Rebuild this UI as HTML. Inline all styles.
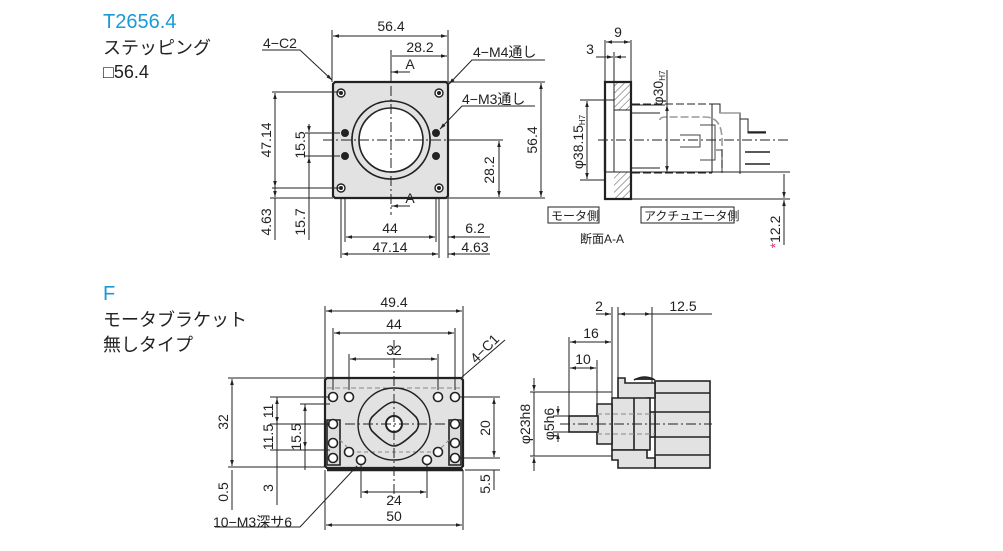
<!DOCTYPE html>
<html><head><meta charset="utf-8"><style>
html,body{margin:0;padding:0;background:#fff;}
svg{display:block;}
text{font-family:"Liberation Sans","Noto Sans CJK JP",sans-serif;fill:#222;}
.t{font-size:14px;}
.b{fill:#1a9ad6;font-size:20px;}
.h{font-size:18px;}
</style></head><body>
<svg width="1003" height="551" viewBox="0 0 1003 551" xmlns="http://www.w3.org/2000/svg">
<defs>
<marker id="a" viewBox="0 0 10 10" refX="10" refY="5" markerWidth="8" markerHeight="6" orient="auto-start-reverse"><path d="M0,2 L10,5 L0,8 z" fill="#222"/></marker>
<pattern id="hatch" width="5" height="5" patternUnits="userSpaceOnUse" patternTransform="rotate(45)"><rect width="5" height="5" fill="#fff"/><line x1="0" y1="0" x2="0" y2="5" stroke="#555" stroke-width="1"/></pattern>
</defs>
<g stroke="#222" fill="none" stroke-width="1">
<!-- titles -->
</g>
<text x="103" y="28" class="b">T2656.4</text>
<text x="103" y="54" class="h">ステッピング</text>
<text x="103" y="78" class="h">□56.4</text>
<text x="103" y="300" class="b">F</text>
<text x="103" y="326" class="h">モータブラケット</text>
<text x="103" y="351" class="h">無しタイプ</text>

<!-- ===== Top plate front ===== -->
<g stroke="#222" stroke-width="1" fill="none">
<path d="M335,82 H446 L448,84 V196 L446,198 H335 L333,196 V84 Z" fill="#e2e2e2" stroke-width="2.2"/>
<circle cx="391" cy="140" r="39" fill="#fff" stroke-width="1.6"/>
<circle cx="391" cy="140" r="39" fill="#e2e2e2" stroke-width="1.6"/>
<circle cx="391" cy="140" r="32" fill="#fff" stroke-width="1.6"/>
<g fill="#fff" stroke-width="1.4">
<circle cx="341" cy="93" r="4"/><circle cx="439" cy="93" r="4"/>
<circle cx="341" cy="188" r="4"/><circle cx="439" cy="188" r="4"/>
</g>
<g fill="#222"><circle cx="341" cy="93" r="1.5"/><circle cx="439" cy="93" r="1.5"/><circle cx="341" cy="188" r="1.5"/><circle cx="439" cy="188" r="1.5"/>
<circle cx="345" cy="133" r="3.5"/><circle cx="436" cy="133" r="3.5"/><circle cx="345" cy="156" r="3.5"/><circle cx="436" cy="156" r="3.5"/></g>
<path d="M391,50 V215" stroke-dasharray="10,3,2,3"/>
<path d="M323,140 H503" stroke-dasharray="10,3,2,3"/>
<!-- ext lines -->
<path d="M332,30 V82 M448,30 V82 M391,56 V82"/>
<path d="M272,92 H340 M272,188 H340 M305,133 H340 M305,156 H340 M270,198 H333 M300,198 H333"/>
<path d="M448,82 H545 M448,198 H545 M448,140 H503"/>
<path d="M345,198 V242 M341,198 V258 M436,198 V242 M439,198 V258 M448,198 V258"/>
<!-- dims -->
<path d="M333,36 H447" marker-start="url(#a)" marker-end="url(#a)"/>
<path d="M392,56 H447" marker-end="url(#a)"/>
<path d="M391,72 H410 M391,206 H410" />
<path d="M402,72 H392" marker-end="url(#a)"/><path d="M402,206 H392" marker-end="url(#a)"/>
<path d="M275,93 V187" marker-start="url(#a)" marker-end="url(#a)"/>
<path d="M275,198 V240"/><path d="M275,185 V197" marker-end="url(#a)"/>
<path d="M309,124 V132" marker-end="url(#a)"/><path d="M309,165 V157" marker-end="url(#a)"/><path d="M309,133 V240 M309,156 V160"/>
<path d="M499,141 V197" marker-start="url(#a)" marker-end="url(#a)"/>
<path d="M541,83 V197" marker-start="url(#a)" marker-end="url(#a)"/>
<path d="M346,237 H435" marker-start="url(#a)" marker-end="url(#a)"/>
<path d="M342,254 H438" marker-start="url(#a)" marker-end="url(#a)"/>
<path d="M448,237 H490"/><path d="M462,237 H449" marker-end="url(#a)"/><path d="M425,237 H435" marker-end="url(#a)"/>
<path d="M448,254 H490"/><path d="M462,254 H449" marker-end="url(#a)"/>
<!-- leaders -->
<path d="M262,50 H300 L332,80" marker-end="url(#a)"/>
<path d="M545,60 H472 L449,84" marker-end="url(#a)"/>
<path d="M535,106 H462 L440,129" marker-end="url(#a)"/>
</g>
<text x="391" y="31" class="t" text-anchor="middle">56.4</text>
<text x="420" y="52" class="t" text-anchor="middle">28.2</text>
<text x="410" y="69" class="t" text-anchor="middle">A</text>
<text x="410" y="203" class="t" text-anchor="middle">A</text>
<text x="263" y="48" class="t">4−C2</text>
<text x="473" y="57" class="t">4−M4通し</text>
<text x="462" y="104" class="t">4−M3通し</text>
<text x="390" y="233" class="t" text-anchor="middle">44</text>
<text x="390" y="252" class="t" text-anchor="middle">47.14</text>
<text x="475" y="233" class="t" text-anchor="middle">6.2</text>
<text x="475" y="252" class="t" text-anchor="middle">4.63</text>
<g class="t">
<text transform="translate(271,140) rotate(-90)" text-anchor="middle" class="t">47.14</text>
<text transform="translate(305,145) rotate(-90)" text-anchor="middle" class="t">15.5</text>
<text transform="translate(271,222) rotate(-90)" text-anchor="middle" class="t">4.63</text>
<text transform="translate(305,222) rotate(-90)" text-anchor="middle" class="t">15.7</text>
<text transform="translate(494,170) rotate(-90)" text-anchor="middle" class="t">28.2</text>
<text transform="translate(537,140) rotate(-90)" text-anchor="middle" class="t">56.4</text>
</g>

<!-- ===== Section A-A ===== -->
<g stroke="#222" stroke-width="1" fill="none">
<rect x="605" y="82" width="26" height="28" fill="url(#hatch)" stroke="none"/>
<rect x="605" y="172" width="26" height="27" fill="url(#hatch)" stroke="none"/>
<rect x="605" y="82" width="9" height="117" fill="#fff" stroke="none"/>
<rect x="605" y="100" width="9" height="80" fill="#fff" stroke="none"/>
<path d="M605,82 H631 V199 H605 Z" stroke-width="2.2"/>
<path d="M614,100 V172 M605,100 H614 M605,172 H614 M614,110 H631 M614,172 H631" stroke-width="1"/>
<path d="M605,100 V172" stroke-width="2.2"/>
<path d="M632,105 H665 M632,113 H660 M632,172 H660 M632,168 H660" stroke="#222"/>
<path d="M632,104 H712 M632,173 H712" stroke-dasharray="8,3"/>
<path d="M660,120 Q660,117 666,117 H705 Q722,117 722,140 V172" stroke="#999" stroke-width="1.6" stroke-dasharray="8,3"/>
<path d="M712,104 V173 M712,104 H720 V113 H740 V174" stroke="#222"/>
<path d="M720,113 H740" stroke="#999" stroke-width="1.6"/>
<path d="M740,119 H748 V133 H766" />
<path d="M748,132 H766 M745,152 H770 M745,164 H770" stroke-width="1.6"/>
<path d="M700,125 H715 V160 H700 M680,135 H700 V147 H680" stroke="#444"/>
<path d="M716,150 H722 V173" stroke="#444"/>
<path d="M598,140 H790" stroke-dasharray="10,3,2,3"/>
<path d="M631,199 H790 M632,172 H790" stroke-width="1"/>
<path d="M605,40 V82 M631,40 V82 M614,52 V100"/>
<path d="M606,42 H630" marker-start="url(#a)" marker-end="url(#a)"/>
<path d="M596,57 H613" marker-end="url(#a)"/><path d="M626,57 H615" marker-end="url(#a)"/>
<path d="M580,100 H604 M580,180 H604"/>
<path d="M587,101 V179" marker-start="url(#a)" marker-end="url(#a)"/>
<path d="M667,105 V172" marker-start="url(#a)" marker-end="url(#a)"/><path d="M667,70 V105"/>
<path d="M784,174 V198" marker-end="url(#a)"/><path d="M784,245 V200" marker-end="url(#a)"/>
<rect x="548" y="207" width="51" height="16"/>
<rect x="641" y="207" width="93" height="16"/>
</g>
<text x="618" y="37" class="t" text-anchor="middle">9</text>
<text x="590" y="54" class="t" text-anchor="middle">3</text>
<text transform="translate(663,88) rotate(-90)" class="t" text-anchor="middle">φ30<tspan font-size="8" dy="2">H7</tspan></text>
<text transform="translate(583,142) rotate(-90)" class="t" text-anchor="middle">φ38.15<tspan font-size="8" dy="2">H7</tspan></text>
<text x="551" y="220" font-size="12">モータ側</text>
<text x="644" y="220" font-size="12">アクチュエータ側</text>
<text x="580" y="243" font-size="12">断面A-A</text>
<text transform="translate(780,232) rotate(-90)" class="t" text-anchor="middle"><tspan fill="#e0307a">*</tspan>12.2</text>

<!-- ===== F bracket front ===== -->
<g stroke="#222" stroke-width="1" fill="none">
<path d="M327,378 H461 L463,380 V466 L461,468 H327 L325,466 V380 Z" fill="#e2e2e2" stroke-width="2.2"/>
<path d="M327,388 H461" stroke="#888" stroke-dasharray="5,3"/>
<path d="M327,470 H463" stroke-width="2.4"/>
<path d="M327,420 H340 V465 H327 Z M449,420 H461 V465 H449 Z" fill="#ddd" stroke-width="1.6"/>
<path d="M340,440 L350,450 M449,440 L439,450 M350,452 H440" stroke="#888" stroke-dasharray="4,3"/>
<circle cx="394" cy="424" r="36" stroke-width="1.4"/>
<path d="M394,402 Q401,402 416,417 Q421,424 416,431 Q401,446 394,446 Q387,446 372,431 Q367,424 372,417 Q387,402 394,402 Z" fill="#e2e2e2" stroke-width="1.6"/>
<circle cx="394" cy="424" r="8" fill="#fff" stroke-width="2"/>
<g fill="#fff" stroke-width="1.6">
<circle cx="333" cy="397" r="4.5"/><circle cx="349" cy="397" r="4.5"/><circle cx="438" cy="397" r="4.5"/><circle cx="455" cy="397" r="4.5"/>
<circle cx="333" cy="424" r="4.5"/><circle cx="455" cy="424" r="4.5"/>
<circle cx="333" cy="443" r="4.5"/><circle cx="455" cy="443" r="4.5"/>
<circle cx="333" cy="458" r="4.5"/><circle cx="455" cy="458" r="4.5"/>
<circle cx="349" cy="452" r="4.5"/><circle cx="438" cy="452" r="4.5"/>
<circle cx="361" cy="460" r="4.5"/><circle cx="427" cy="460" r="4.5"/>
</g>
<path d="M394,340 V498 M345,424 H445" stroke-dasharray="10,3,2,3"/>
<path d="M325,306 V378 M463,306 V378 M333,328 V390 M455,328 V390 M349,354 V390 M438,354 V390"/>
<path d="M326,311 H462" marker-start="url(#a)" marker-end="url(#a)"/>
<path d="M334,333 H454" marker-start="url(#a)" marker-end="url(#a)"/>
<path d="M350,359 H437" marker-start="url(#a)" marker-end="url(#a)"/>
<path d="M228,378 H325 M228,467 H325 M270,397 H330 M270,424 H330 M300,404 H330 M270,450 H330"/>
<path d="M232,379 V466" marker-start="url(#a)" marker-end="url(#a)"/>
<path d="M232,470 V510 M277,397 V505 M305,404 V470"/>
<path d="M277,398 V423" marker-start="url(#a)" marker-end="url(#a)"/>
<path d="M305,405 V448" marker-start="url(#a)" marker-end="url(#a)"/>
<path d="M460,397 H500 M460,458 H500 M465,470 H500"/>
<path d="M494,398 V457" marker-start="url(#a)" marker-end="url(#a)"/>
<path d="M494,470 V490" />
<path d="M361,465 V498 M427,465 V498 M325,470 V530 M463,470 V530"/>
<path d="M362,492 H426" marker-start="url(#a)" marker-end="url(#a)"/>
<path d="M326,525 H462" marker-start="url(#a)" marker-end="url(#a)"/>
<path d="M215,527 H300 L357,466" marker-end="url(#a)"/>
<path d="M462,377 L505,340"/>
</g>
<text x="394" y="307" class="t" text-anchor="middle">49.4</text>
<text x="394" y="329" class="t" text-anchor="middle">44</text>
<text x="394" y="355" class="t" text-anchor="middle">32</text>
<text transform="translate(488,352) rotate(-45)" class="t" text-anchor="middle">4−C1</text>
<text x="394" y="505" class="t" text-anchor="middle">24</text>
<text x="394" y="521" class="t" text-anchor="middle">50</text>
<text x="213" y="527" class="t">10−M3深サ6</text>
<text transform="translate(228,422) rotate(-90)" class="t" text-anchor="middle">32</text>
<text transform="translate(273,411) rotate(-90)" class="t" text-anchor="middle">11</text>
<text transform="translate(273,437) rotate(-90)" class="t" text-anchor="middle">11.5</text>
<text transform="translate(301,437) rotate(-90)" class="t" text-anchor="middle">15.5</text>
<text transform="translate(228,492) rotate(-90)" class="t" text-anchor="middle">0.5</text>
<text transform="translate(273,488) rotate(-90)" class="t" text-anchor="middle">3</text>
<text transform="translate(490,428) rotate(-90)" class="t" text-anchor="middle">20</text>
<text transform="translate(490,484) rotate(-90)" class="t" text-anchor="middle">5.5</text>

<!-- ===== F side view ===== -->
<g stroke="#222" stroke-width="1.6" fill="#e2e2e2">
<rect x="655" y="381" width="55" height="87"/>
<path d="M655,393 H710 M655,412 H710 M655,437 H710 M655,455 H710" fill="none"/>
<rect x="647" y="412" width="8" height="25"/>
<path d="M618,378 H625 V383 H655 V398 H647 V404 H618 Z"/>
<path d="M612,398 H650 V450 H612 Z"/>
<path d="M612,450 H647 V458 H655 V468 H618 V460 H612 Z"/>
<path d="M634,398 V450" fill="none"/>
<path d="M597,404 H612 V444 H597 Z"/>
<rect x="569" y="416" width="29" height="16"/>
<path d="M634,380 Q645,374 655,380" fill="#333"/>
</g>
<g stroke="#222" stroke-width="1" fill="none">
<path d="M560,424 H712" stroke-dasharray="10,3,2,3"/>
<path d="M597,414 H655 M597,434 H655" stroke="#888" stroke-dasharray="5,3"/>
<path d="M612,307 V398 M618,307 V378 M652,307 V383 M569,337 V416 M597,360 V404"/>
<path d="M596,314 H611" marker-end="url(#a)"/><path d="M634,314 H619" marker-end="url(#a)"/><path d="M618,314 H712"/>
<path d="M622,314 H651" marker-end="url(#a)"/>
<path d="M570,342 H611" marker-start="url(#a)" marker-end="url(#a)"/>
<path d="M570,368 H596" marker-start="url(#a)" marker-end="url(#a)"/>
<path d="M530,392 H612 M530,456 H612 M553,416 H569 M553,432 H569"/>
<path d="M534,378 V391" marker-end="url(#a)"/><path d="M534,471 V457" marker-end="url(#a)"/><path d="M534,392 V456"/>
<path d="M558,406 V415" marker-end="url(#a)"/><path d="M558,442 V433" marker-end="url(#a)"/>
</g>
<text x="599" y="311" class="t" text-anchor="middle">2</text>
<text x="683" y="311" class="t" text-anchor="middle">12.5</text>
<text x="591" y="338" class="t" text-anchor="middle">16</text>
<text x="583" y="364" class="t" text-anchor="middle">10</text>
<text transform="translate(530,424) rotate(-90)" class="t" text-anchor="middle">φ23h8</text>
<text transform="translate(554,424) rotate(-90)" class="t" text-anchor="middle">φ5h6</text>
</svg>
</body></html>
